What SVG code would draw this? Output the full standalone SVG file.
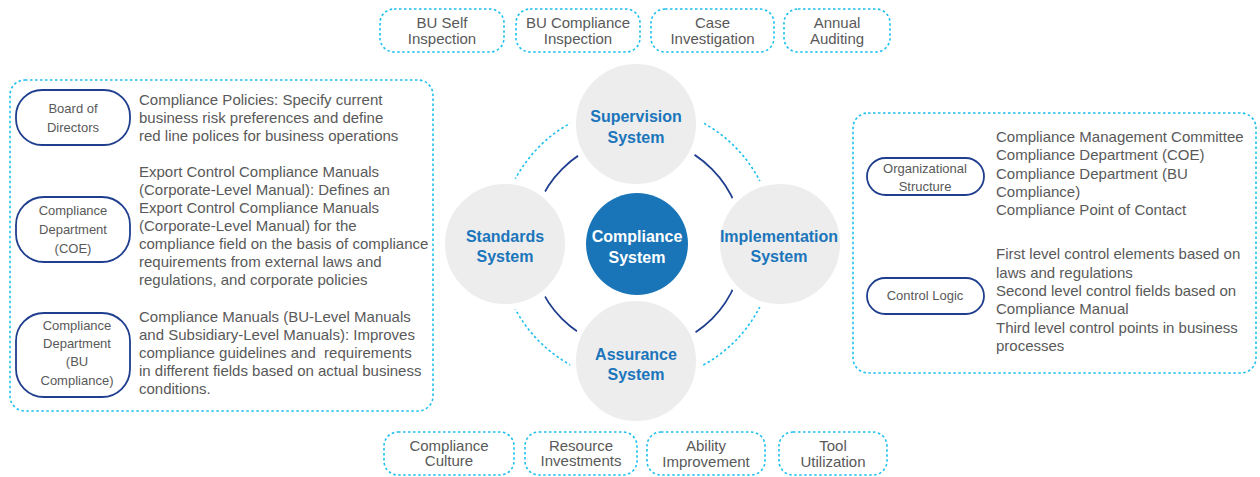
<svg xmlns="http://www.w3.org/2000/svg" width="1260" height="477" viewBox="0 0 1260 477">
<style>
text{font-family:"Liberation Sans",Arial,sans-serif;}
.dash{fill:none;stroke:#1cc0ef;stroke-width:1.6;stroke-dasharray:2.5 2.5;}
.pill{fill:#fff;stroke:#1f3e8e;stroke-width:1.8;}
.gt{fill:#595959;font-size:15px;}
.pt{fill:#595959;font-size:13px;text-anchor:middle;}
.bt{fill:#595959;font-size:15px;text-anchor:middle;}
.sys{fill:#1b75bb;font-size:16px;font-weight:bold;text-anchor:middle;}
.gc{fill:#ededed;stroke:#fff;stroke-width:6;}
</style>
<rect width="1260" height="477" fill="#fff"/>
<g id="connectors">
<circle cx="637" cy="244" r="138" class="dash"/>
<circle cx="637" cy="244" r="106" fill="none" stroke="#1f3e8e" stroke-width="1.8"/>
</g>
<g id="supervision"><circle class="gc" cx="636" cy="124" r="63"/><text class="sys" x="636" y="122">Supervision</text><text class="sys" x="636" y="143">System</text></g>
<g id="standards"><circle class="gc" cx="505" cy="244" r="63"/><text class="sys" x="505" y="242">Standards</text><text class="sys" x="505" y="262">System</text></g>
<g id="implementation"><circle class="gc" cx="780" cy="244" r="63"/><text class="sys" x="779" y="242">Implementation</text><text class="sys" x="779" y="262">System</text></g>
<g id="assurance"><circle class="gc" cx="636" cy="361" r="63"/><text class="sys" x="636" y="360">Assurance</text><text class="sys" x="636" y="380">System</text></g>
<g id="compliance-system"><circle cx="637" cy="244" r="51" fill="#1a75b8"/><text class="sys" style="fill:#fff" x="637" y="242">Compliance</text><text class="sys" style="fill:#fff" x="637" y="263">System</text></g>

<g id="top-boxes">
<g id="bu-self"><rect class="dash" x="380" y="9" width="124" height="43" rx="14"/><text class="bt" x="442" y="28">BU Self</text><text class="bt" x="442" y="44">Inspection</text></g>
<g id="bu-compliance"><rect class="dash" x="516" y="9" width="124" height="43" rx="14"/><text class="bt" x="578" y="28">BU Compliance</text><text class="bt" x="578" y="44">Inspection</text></g>
<g id="case"><rect class="dash" x="651" y="9" width="123" height="43" rx="14"/><text class="bt" x="712.5" y="28">Case</text><text class="bt" x="712.5" y="44">Investigation</text></g>
<g id="annual"><rect class="dash" x="784" y="9" width="106" height="43" rx="14"/><text class="bt" x="837" y="28">Annual</text><text class="bt" x="837" y="44">Auditing</text></g>
</g>
<g id="bottom-boxes">
<g id="culture"><rect class="dash" x="384" y="432" width="130" height="43" rx="14"/><text class="bt" x="449" y="451">Compliance</text><text class="bt" x="449" y="466">Culture</text></g>
<g id="resource"><rect class="dash" x="525" y="432" width="112" height="43" rx="14"/><text class="bt" x="581" y="451">Resource</text><text class="bt" x="581" y="466">Investments</text></g>
<g id="ability"><rect class="dash" x="647" y="432" width="118" height="43" rx="14"/><text class="bt" x="706" y="451">Ability</text><text class="bt" x="706" y="467">Improvement</text></g>
<g id="tool"><rect class="dash" x="779" y="432" width="108" height="43" rx="14"/><text class="bt" x="833" y="451">Tool</text><text class="bt" x="833" y="467">Utilization</text></g>
</g>

<g id="left-panel">
<rect class="dash" x="10" y="80" width="423" height="331" rx="15"/>
<g id="board"><rect class="pill" x="16" y="90" width="114" height="55" rx="26"/><text class="pt" x="73" y="113">Board of</text><text class="pt" x="73" y="132">Directors</text></g>
<g id="coe"><rect class="pill" x="16" y="197" width="114" height="65" rx="28"/><text class="pt" x="73" y="215">Compliance</text><text class="pt" x="73" y="234">Department</text><text class="pt" x="73" y="253">(COE)</text></g>
<g id="bu"><rect class="pill" x="16" y="313" width="114" height="84" rx="28"/><text class="pt" x="77" y="330">Compliance</text><text class="pt" x="77" y="348">Department</text><text class="pt" x="77" y="366">(BU</text><text class="pt" x="77" y="385">Compliance)</text></g>
<text class="gt" x="139" y="105">Compliance Policies: Specify current</text>
<text class="gt" x="139" y="123">business risk preferences and define</text>
<text class="gt" x="139" y="141">red line polices for business operations</text>
<text class="gt" x="139" y="177">Export Control Compliance Manuals</text>
<text class="gt" x="139" y="195">(Corporate-Level Manual): Defines an</text>
<text class="gt" x="139" y="213">Export Control Compliance Manuals</text>
<text class="gt" x="139" y="231">(Corporate-Level Manual) for the</text>
<text class="gt" x="139" y="249">compliance field on the basis of compliance</text>
<text class="gt" x="139" y="267">requirements from external laws and</text>
<text class="gt" x="139" y="285">regulations, and corporate policies</text>
<text class="gt" x="139" y="322">Compliance Manuals (BU-Level Manuals</text>
<text class="gt" x="139" y="340">and Subsidiary-Level Manuals): Improves</text>
<text class="gt" x="139" y="358" xml:space="preserve">compliance guidelines and  requirements</text>
<text class="gt" x="139" y="376">in different fields based on actual business</text>
<text class="gt" x="139" y="394">conditions.</text>
</g>

<g id="right-panel">
<rect class="dash" x="853" y="113" width="403" height="260" rx="15"/>
<g id="org"><rect class="pill" x="867" y="158" width="117" height="37" rx="18.5"/><text class="pt" x="925" y="173">Organizational</text><text class="pt" x="925" y="191">Structure</text></g>
<g id="logic"><rect class="pill" x="867" y="278" width="117" height="36" rx="18"/><text class="pt" x="925" y="300">Control Logic</text></g>
<text class="gt" x="996" y="142">Compliance Management Committee</text>
<text class="gt" x="996" y="160">Compliance Department (COE)</text>
<text class="gt" x="996" y="179">Compliance Department (BU</text>
<text class="gt" x="996" y="197">Compliance)</text>
<text class="gt" x="996" y="215">Compliance Point of Contact</text>
<text class="gt" x="996" y="259">First level control elements based on</text>
<text class="gt" x="996" y="278">laws and regulations</text>
<text class="gt" x="996" y="296">Second level control fields based on</text>
<text class="gt" x="996" y="314">Compliance Manual</text>
<text class="gt" x="996" y="333">Third level control points in business</text>
<text class="gt" x="996" y="351">processes</text>
</g>
</svg>
